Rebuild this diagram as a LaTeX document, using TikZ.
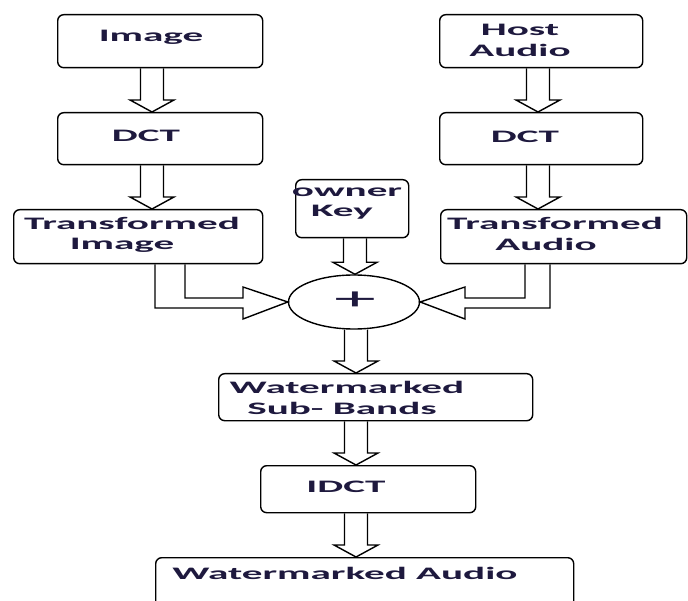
\documentclass[tikz,border=0pt]{standalone}
\usepackage{fontspec}
\setmainfont{Carlito}
\usepackage{graphicx}
\usetikzlibrary{shapes.geometric,calc}
\definecolor{txt}{RGB}{30,25,62}
\newcommand{\sx}[1]{\scalebox{2.35}[1]{#1}}
% #1 x centre (pt), #2 from node, #3 to node
\newcommand{\dblarrow}[3]{%
  \draw[arrowline] let \p1=(#2.south), \p2=(#3.north) in
    (#1pt-11.5pt,\y1) -- (#1pt-11.5pt,\y2+12pt) -- (#1pt-22pt,\y2+12pt) -- (#1pt,\y2)
    -- (#1pt+22pt,\y2+12pt) -- (#1pt+11.5pt,\y2+12pt) -- (#1pt+11.5pt,\y1);}
\tikzset{
  box/.style={draw, line width=1.4pt, rounded corners=6pt, inner sep=0pt, anchor=north west},
  lbl/.style={text=txt, font=\fontsize{17.5}{20}\selectfont\bfseries, inner sep=0pt, anchor=base},
  arrowline/.style={draw, line width=1.4pt, line join=miter},
}
\begin{document}
\begin{tikzpicture}[x=1pt,y=1pt]
\useasboundingbox (0,0) rectangle (688,-601);
\fill[white] (0,0) rectangle (688,-601);
% boxes
\node[box, minimum width=205pt, minimum height=53pt] (img) at (57,-14) {};
\node[box, minimum width=205pt, minimum height=52pt] (dctL) at (57,-112) {};
\node[box, minimum width=249pt, minimum height=54pt] (ti) at (13,-209) {};
\node[box, minimum width=203pt, minimum height=53pt] (host) at (439,-14) {};
\node[box, minimum width=203pt, minimum height=52pt] (dctR) at (439,-112) {};
\node[box, minimum width=246pt, minimum height=54pt] (ta) at (440,-209) {};
\node[box, minimum width=113pt, minimum height=58pt] (key) at (295,-179) {};
\node[draw, ellipse, line width=1.4pt, minimum width=131pt, minimum height=54pt, inner sep=0pt] (sum) at (354,-302) {};
\node[box, minimum width=314pt, minimum height=47pt] (sb) at (218,-373) {};
\node[box, minimum width=215pt, minimum height=47pt] (idct) at (260,-465) {};
\node[box, minimum width=418pt, minimum height=60pt] (wa) at (155,-557) {};
% labels
\node[lbl] (imgT) at (151,-42) {\sx{Image}};
\node[lbl] (dctLT) at (146,-142) {\sx{DCT}};
\node[lbl] (tiA) at (132,-230) {\sx{Transformed}};
\node[lbl] (tiB) at (122,-250) {\sx{Image}};
\node[lbl] (hostA) at (520,-36) {\sx{Host}};
\node[lbl] (hostB) at (520,-57) {\sx{Audio}};
\node[lbl] (dctRT) at (525,-143) {\sx{DCT}};
\node[lbl] (taA) at (555,-230) {\sx{Transformed}};
\node[lbl] (taB) at (546,-251) {\sx{Audio}};
\node[lbl] (keyA) at (347,-197) {\sx{owner}};
\node[lbl] (keyB) at (342,-217) {\sx{Key}};
\node[text=txt, font=\fontsize{32}{34}\selectfont, inner sep=0pt] (plus) at (355,-301) {\scalebox{2.6}[1]{+}};
\node[lbl] (sbA) at (347,-393) {\sx{Watermarked}};
\node[lbl] (sbB) at (342,-414) {\sx{Sub- Bands}};
\node[lbl] (idctT) at (346,-492) {\sx{IDCT}};
\node[lbl] (waT) at (345,-579) {\sx{Watermarked Audio}};
% straight double arrows
\dblarrow{152}{img}{dctL}
\dblarrow{152}{dctL}{ti}
\dblarrow{538}{host}{dctR}
\dblarrow{538}{dctR}{ta}
\dblarrow{355}{key}{sum}
\dblarrow{356}{sum}{sb}
\dblarrow{356}{sb}{idct}
\dblarrow{356}{idct}{wa}
% elbow double arrows into the adder
\draw[arrowline] let \p1=(ti.south), \p2=(sum.west) in
  (155pt,\y1) -- (155pt,\y2-6pt) -- (243pt,\y2-6pt) -- (243pt,\y2-17pt) -- (\p2)
  -- (243pt,\y2+15pt) -- (243pt,\y2+4pt) -- (185pt,\y2+4pt) -- (185pt,\y1);
\draw[arrowline] let \p1=(ta.south), \p2=(sum.east) in
  (550pt,\y1) -- (550pt,\y2-6pt) -- (465pt,\y2-6pt) -- (465pt,\y2-17pt) -- (\p2)
  -- (465pt,\y2+15pt) -- (465pt,\y2+4pt) -- (525pt,\y2+4pt) -- (525pt,\y1);
\end{tikzpicture}
\end{document}
